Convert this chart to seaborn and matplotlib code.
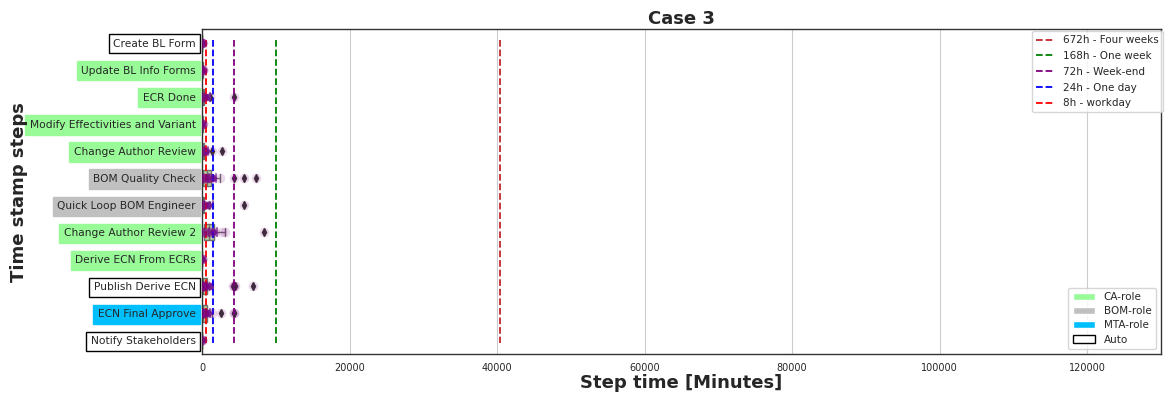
import matplotlib
matplotlib.use('Agg')
import matplotlib.pyplot as plt
import matplotlib.patches as mpatches
from matplotlib.lines import Line2D
import seaborn as sns
import pandas as pd

Steps = ['Create BL Form', 'Update BL Info Forms', 'ECR Done',
         'Modify Effectivities and Variant', 'Change Author Review',
         'BOM Quality Check', 'Quick Loop BOM Engineer',
         'Change Author Review 2', 'Derive ECN From ECRs',
         'Publish Derive ECN', 'ECN Final Approve', 'Notify Stakeholders']
Roles = ['Auto', 'CA', 'CA', 'CA', 'CA', 'BOM', 'BOM', 'CA', 'CA',
         'Auto', 'MTA', 'Auto']

# step times in minutes
StepTimes = {
    'Create BL Form': [5, 10, 15, 20, 30, 40, 60],
    'Update BL Info Forms': [5, 10, 20, 30, 45, 60, 90, 120],
    'ECR Done': [10, 20, 40, 60, 80, 100, 150, 200, 1100, 4300],
    'Modify Effectivities and Variant': [5, 10, 15, 30, 45, 60, 80],
    'Change Author Review': [10, 30, 60, 90, 120, 200, 300, 1400, 2700],
    'BOM Quality Check': [10, 30, 60, 100, 120, 200, 300, 450, 600, 700,
                          800, 900, 1000, 1100, 1200, 2400, 4300, 5700, 7300],
    'Quick Loop BOM Engineer': [20, 40, 60, 80, 100, 150, 200, 950, 5700],
    'Change Author Review 2': [20, 60, 100, 150, 300, 500, 700, 900, 1000,
                               1200, 1300, 1800, 2700, 3100, 8400],
    'Derive ECN From ECRs': [5, 10, 15, 20, 30],
    'Publish Derive ECN': [5, 10, 20, 30, 40, 50, 60, 80, 100, 120, 150, 200,
                           250, 300, 400, 600, 950, 4200, 4300, 4400, 6900],
    'ECN Final Approve': [5, 10, 20, 30, 40, 60, 80, 100, 120, 150, 200,
                          250, 300, 400, 950, 1400, 2600, 4300, 4350],
    'Notify Stakeholders': [1, 2, 3, 5, 8],
}

LimitMinutes = [40320, 10080, 4320, 1440, 480]
LimitLabels = ['672h - Four weeks', '168h - One week', '72h - Week-end',
               '24h - One day', '8h - workday']
LimitColors = ['#c0272d', 'green', 'purple', 'blue', 'red']

RoleColors = {'CA': '#98fb98', 'BOM': '#c0c0c0', 'MTA': '#00bfff',
              'Auto': 'white'}

Rows = []
for step in Steps:
    for v in StepTimes[step]:
        Rows.append({'Step': step, 'Minutes': v})
Data = pd.DataFrame(Rows)

sns.set_style('whitegrid')
fig = plt.figure(figsize=(11.65, 3.94), dpi=100)
ax = fig.add_axes([0.1735, 0.1015, 0.823, 0.8245])

sns.boxplot(data=Data, x='Minutes', y='Step', order=Steps, color='#b8d89a',
            width=0.6, linewidth=1, flierprops=dict(marker='d', markersize=4,
            markerfacecolor='#333333', markeredgecolor='#333333'), ax=ax)
sns.stripplot(data=Data, x='Minutes', y='Step', order=Steps, color='purple',
              alpha=0.15, size=7, jitter=False, ax=ax)
sns.pointplot(data=Data, x='Minutes', y='Step', order=Steps, color='#7b2a9a',
              errorbar='se', linestyle='none', markers='o', markersize=3,
              capsize=0.3, err_kws={'linewidth': 1.5, 'alpha': 0.7}, ax=ax)

for x, c in zip(LimitMinutes, LimitColors):
    ax.vlines(x, -0.1, 11.1, colors=c, linestyles='--', linewidth=1.3)

ax.set_xlim(0, 130000)
ax.set_ylim(11.5, -0.5)
ax.grid(axis='y', visible=False)
ax.grid(axis='x', color='#cccccc')
for s in ax.spines.values():
    s.set_color('#333333')
    s.set_linewidth(1)

ax.tick_params(axis='x', labelsize=7, pad=3)
ax.tick_params(axis='y', labelsize=7.7, pad=1)
for lbl, role in zip(ax.get_yticklabels(), Roles):
    ec = 'black' if role == 'Auto' else RoleColors[role]
    lbl.set_bbox(dict(facecolor=RoleColors[role], edgecolor=ec, pad=3.3))

ax.set_title('Case 3', fontsize=13, fontweight='bold', pad=4)
ax.set_xlabel('Step time [Minutes]', fontsize=13, fontweight='bold', labelpad=1)
ax.set_ylabel('Time stamp steps', fontsize=13, fontweight='bold', labelpad=1)

LineHandles = [Line2D([0], [0], color=c, linestyle='--', linewidth=1.3)
               for c in LimitColors]
Leg1 = ax.legend(LineHandles, LimitLabels, loc='upper right', fontsize=7.5,
                 bbox_to_anchor=(1.004, 1.0), handlelength=1.8,
                 labelspacing=0.55, borderaxespad=0.2)
ax.add_artist(Leg1)

PatchHandles = [mpatches.Patch(facecolor=RoleColors['CA'], label='CA-role'),
                mpatches.Patch(facecolor=RoleColors['BOM'], label='BOM-role'),
                mpatches.Patch(facecolor=RoleColors['MTA'], label='MTA-role'),
                mpatches.Patch(facecolor='white', edgecolor='black',
                               label='Auto')]
ax.legend(handles=PatchHandles, loc='lower right', fontsize=7.5,
          handlelength=2.2, labelspacing=0.4, borderaxespad=0.5)

plt.savefig('out.png', dpi=100)
